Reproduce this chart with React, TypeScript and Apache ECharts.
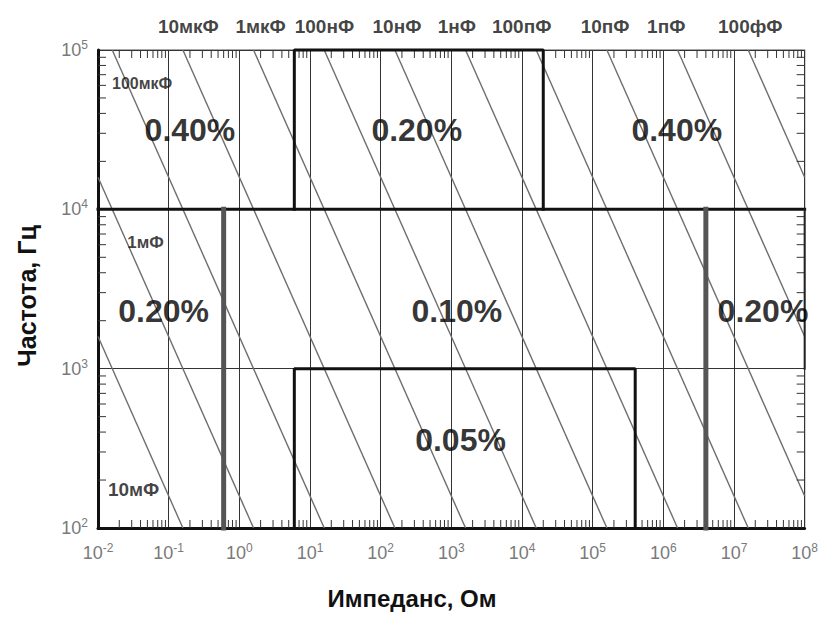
import React, { useEffect, useRef } from "react";
import * as echarts from "echarts";

// Axis decades (exponents of 10)
const xExponents = [-2, -1, 0, 1, 2, 3, 4, 5, 6, 7, 8];
const yExponents = [2, 3, 4, 5];
const minorMultipliers = [2, 3, 4, 5, 6, 7, 8, 9];

// Constant-capacitance lines, two points each (Ohm, Hz)
const capNames = ["10мФ", "1мФ", "100мкФ", "10мкФ", "1мкФ", "100нФ", "10нФ", "1нФ", "100пФ", "10пФ", "1пФ", "100фФ"];
const lineStartOhm = [0.01, 0.01, 0.0159, 0.159, 1.59, 15.9, 159, 1590, 15900, 159000, 1590000, 15900000];
const lineStartHz = [1590, 15900, 100000, 100000, 100000, 100000, 100000, 100000, 100000, 100000, 100000, 100000];
const lineEndOhm = [0.159, 1.59, 15.9, 159, 1590, 15900, 159000, 1590000, 15900000, 100000000, 100000000, 100000000];
const lineEndHz = [100, 100, 100, 100, 100, 100, 100, 100, 100, 159, 1590, 15900];

// Capacitance labels above the plot
const topCapLabels = ["10мкФ", "1мкФ", "100нФ", "10нФ", "1нФ", "100пФ", "10пФ", "1пФ", "100фФ"];
const topCapLabelOhm = [0.19, 2.0, 16, 170, 1200, 9900, 150000, 1100000, 17000000];
// Capacitance labels inside the plot (left edge of text)
const sideCapLabels = ["100мкФ", "1мФ", "10мФ"];
const sideCapLabelOhm = [0.0158, 0.026, 0.0138];
const sideCapLabelHz = [61700, 6170, 174];

// Accuracy zones
const accuracyLabels = ["0.40%", "0.20%", "0.40%", "0.20%", "0.10%", "0.20%", "0.05%"];
const accuracyOhm = [0.2, 324, 1550000, 0.085, 1200, 25700000, 1350];
const accuracyHz = [31600, 31600, 31600, 2290, 2290, 2290, 355];

// Zone boundaries
const boxTopOhm = [6, 20000];
const boxTopHz = [10000, 100000];
const boxBottomOhm = [6, 400000];
const boxBottomHz = [100, 1000];
const dividerOhm = [0.6, 4000000];
const dividerHz = [100, 10000];
const rowEdgeHz = 10000;
const rangeOhm = [0.01, 100000000];

const lg = Math.log10;
const FONT = "'Liberation Sans', Arial, Helvetica, sans-serif";
const sideLabelFontSize: Record<string, number> = { "100мкФ": 16, "1мФ": 17, "10мФ": 19 };

export default function App() {
  const ref = useRef<HTMLDivElement>(null);

  useEffect(() => {
    document.body.style.margin = "0";
    const chart = echarts.init(ref.current!, null, { renderer: "svg" });

    const capSeries = capNames.map((name, i) => ({
      type: "line",
      name,
      silent: true,
      symbol: "none",
      clip: true,
      lineStyle: { color: "#6e6e6e", width: 1.4 },
      data: [
        [lg(lineStartOhm[i]), lg(lineStartHz[i])],
        [lg(lineEndOhm[i]), lg(lineEndHz[i])],
      ],
      z: 2,
    }));

    const bold = (data: number[][], color = "#111", width = 3) => ({
      type: "line",
      silent: true,
      symbol: "none",
      clip: false,
      lineStyle: { color, width, cap: "square" },
      data,
      z: 4,
    });

    const xMinor: number[][] = [];
    xExponents.slice(0, -1).forEach((e) =>
      minorMultipliers.forEach((m) => xMinor.push([lg(m) + e, yExponents[0]]))
    );
    const yMinor: number[][] = [];
    yExponents.slice(0, -1).forEach((e) =>
      minorMultipliers.forEach((m) => yMinor.push([xExponents[0], lg(m) + e]))
    );
    const xMin = xExponents[0];
    const xMax = xExponents[xExponents.length - 1];
    const yMin = yExponents[0];
    const yMax = yExponents[yExponents.length - 1];

    const tickLen = 8;
    const tickStyle = { stroke: "#333", lineWidth: 1 };

    const tickRich = {
      b: { fontSize: 18, color: "#7a7a7a", fontFamily: FONT, lineHeight: 22 },
      s: { fontSize: 12, color: "#7a7a7a", fontFamily: FONT, verticalAlign: "top", lineHeight: 13 },
    };

    const option: any = {
      animation: false,
      textStyle: { fontFamily: FONT },
      grid: {
        left: 98,
        right: 16,
        top: 50,
        bottom: 89,
        show: true,
        borderColor: "#555",
        borderWidth: 1.2,
      },
      xAxis: {
        type: "value",
        min: xMin,
        max: xMax,
        interval: 1,
        axisLine: { show: true, onZero: false, lineStyle: { color: "#111", width: 3 } },
        axisTick: { show: false },
        splitLine: { show: true, lineStyle: { color: "#333", width: 1 } },
        axisLabel: {
          margin: 14,
          formatter: (v: number) => `{b|10}{s|${v}}`,
          rich: tickRich,
        },
      },
      yAxis: {
        type: "value",
        min: yMin,
        max: yMax,
        interval: 1,
        axisLine: { show: true, onZero: false, lineStyle: { color: "#111", width: 3 } },
        axisTick: { show: false },
        splitLine: { show: true, lineStyle: { color: "#333", width: 1 } },
        axisLabel: {
          margin: 10,
          formatter: (v: number) => `{b|10}{s|${v}}`,
          rich: tickRich,
        },
      },
      graphic: [
        {
          type: "text",
          x: 412,
          y: 598,
          style: {
            text: "Импеданс, Ом",
            font: `bold 24px ${FONT}`,
            fill: "#111",
            textAlign: "center",
            textVerticalAlign: "middle",
          },
        },
        {
          type: "text",
          x: 27,
          y: 296,
          rotation: Math.PI / 2,
          style: {
            text: "Частота, Гц",
            font: `bold 25px ${FONT}`,
            fill: "#111",
            textAlign: "center",
            textVerticalAlign: "middle",
          },
        },
      ],
      series: [
        ...capSeries,
        // minor ticks on x (bottom and top)
        {
          type: "custom",
          silent: true,
          data: xMinor,
          z: 3,
          renderItem: (_p: any, api: any) => {
            const v = api.value(0);
            const b = api.coord([v, yMin]);
            const t = api.coord([v, yMax]);
            return {
              type: "group",
              children: [
                { type: "line", shape: { x1: b[0], y1: b[1], x2: b[0], y2: b[1] - tickLen }, style: tickStyle },
                { type: "line", shape: { x1: t[0], y1: t[1], x2: t[0], y2: t[1] + tickLen }, style: tickStyle },
              ],
            };
          },
        },
        // minor ticks on y (left and right)
        {
          type: "custom",
          silent: true,
          data: yMinor,
          z: 3,
          renderItem: (_p: any, api: any) => {
            const v = api.value(1);
            const l = api.coord([xMin, v]);
            const r = api.coord([xMax, v]);
            return {
              type: "group",
              children: [
                { type: "line", shape: { x1: l[0], y1: l[1], x2: l[0] + tickLen, y2: l[1] }, style: tickStyle },
                { type: "line", shape: { x1: r[0], y1: r[1], x2: r[0] - tickLen, y2: r[1] }, style: tickStyle },
              ],
            };
          },
        },
        // zone boundaries
        bold([
          [lg(rangeOhm[0]), lg(rowEdgeHz)],
          [lg(rangeOhm[1]), lg(rowEdgeHz)],
        ]),
        bold([
          [lg(boxTopOhm[0]), lg(boxTopHz[0])],
          [lg(boxTopOhm[0]), lg(boxTopHz[1])],
          [lg(boxTopOhm[1]), lg(boxTopHz[1])],
          [lg(boxTopOhm[1]), lg(boxTopHz[0])],
        ]),
        bold([
          [lg(boxBottomOhm[0]), lg(boxBottomHz[0])],
          [lg(boxBottomOhm[0]), lg(boxBottomHz[1])],
          [lg(boxBottomOhm[1]), lg(boxBottomHz[1])],
          [lg(boxBottomOhm[1]), lg(boxBottomHz[0])],
        ]),
        bold([
          [lg(dividerOhm[0]), lg(dividerHz[0])],
          [lg(dividerOhm[0]), lg(dividerHz[1])],
        ], "#555", 5),
        bold([
          [lg(dividerOhm[1]), lg(dividerHz[0])],
          [lg(dividerOhm[1]), lg(dividerHz[1])],
        ], "#555", 5),
        bold([
          [lg(rangeOhm[1]), lg(dividerHz[0]) + 1],
          [lg(rangeOhm[1]), lg(dividerHz[1])],
        ], "#222", 2),
        // capacitance labels above the plot
        {
          type: "scatter",
          silent: true,
          symbolSize: 0,
          z: 6,
          data: topCapLabels.map((n, i) => ({ name: n, value: [lg(topCapLabelOhm[i]), yMax] })),
          label: {
            show: true,
            position: "top",
            distance: 14,
            formatter: (p: any) => p.name,
            fontFamily: FONT,
            fontSize: 19,
            fontWeight: "bold",
            color: "#111",
          },
        },
        // capacitance labels inside the plot
        {
          type: "scatter",
          silent: true,
          symbolSize: 0,
          z: 6,
          data: sideCapLabels.map((n, i) => ({
            name: n,
            value: [lg(sideCapLabelOhm[i]), lg(sideCapLabelHz[i])],
            label: { fontSize: sideLabelFontSize[n] },
          })),
          label: {
            show: true,
            position: "right",
            distance: 0,
            formatter: (p: any) => p.name,
            fontFamily: FONT,
            fontSize: 17,
            fontWeight: "bold",
            color: "#111",
          },
        },
        // accuracy zone labels
        {
          type: "scatter",
          silent: true,
          symbolSize: 0,
          z: 6,
          data: accuracyLabels.map((n, i) => ({ name: n, value: [lg(accuracyOhm[i]), lg(accuracyHz[i])] })),
          label: {
            show: true,
            position: "inside",
            formatter: (p: any) => p.name,
            fontFamily: FONT,
            fontSize: 32,
            fontWeight: "bold",
            color: "#000",
          },
        },
      ],
    };

    chart.setOption(option);
    return () => chart.dispose();
  }, []);

  return <div ref={ref} style={{ width: 821, height: 617 }} />;
}
